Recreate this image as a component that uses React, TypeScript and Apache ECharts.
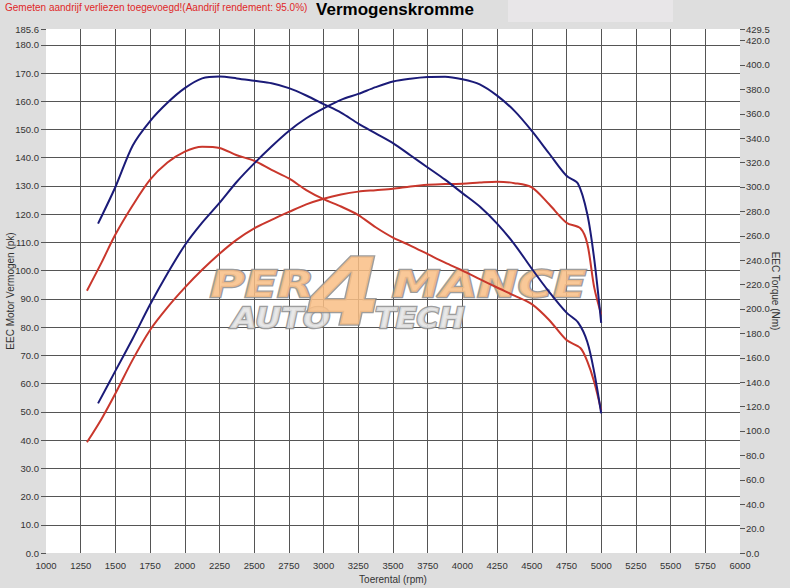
import { useEffect, useRef } from 'react';
import * as echarts from 'echarts';

// rpm grid shared by most curves
const rpmAfter = [1375, 1500, 1625, 1750, 1875, 2000, 2125, 2250, 2375, 2500, 2625, 2750, 2875, 3000, 3125, 3250, 3375, 3500, 3625, 3750, 3875, 4000, 4125, 4250, 4375, 4500, 4625, 4750, 4833, 4900, 4950, 5000];
// blue power (pk, left axis)
const powerAfter = [53, 64.5, 76, 88, 99, 109, 117, 124, 131.5, 138, 144, 149.5, 154, 157.5, 160.5, 162.6, 165, 167, 168, 168.6, 168.7, 167.8, 166, 162, 156.6, 149.5, 141.5, 133.6, 130.8, 120, 104, 81.5];
// blue torque (Nm, right axis)
const torqueAfter = [270, 300, 334, 354, 369, 381, 389, 390.5, 389, 387, 385, 381, 375, 368, 361, 352, 344, 336, 326, 316, 306, 295, 284, 270, 253, 233, 214, 197, 189, 173, 148, 114.5];

const rpmBefore = [1295, 1400, 1500, 1625, 1750, 1875, 2000, 2125, 2250, 2375, 2500, 2625, 2750, 2875, 3000, 3125, 3250, 3375, 3500, 3625, 3750, 3875, 4000, 4125, 4250, 4375, 4500, 4625, 4750, 4850, 4900, 4950, 5000];
// red power (pk, left axis)
const powerBefore = [39.2, 47.5, 56.5, 68.5, 79, 87, 94, 100.3, 106, 111, 115, 118, 120.8, 123.5, 125.5, 127, 128, 128.5, 129, 129.8, 130.4, 130.7, 130.8, 131.2, 131.5, 131, 129.5, 123.5, 117, 115, 109.5, 94, 84.5];
// red torque (Nm, right axis)
const torqueBefore = [215, 238, 261, 285, 306, 320, 329, 333, 332, 326, 321.5, 314, 307, 297.5, 290, 284, 277, 267, 258.5, 252, 245, 238, 231.5, 224.5, 217.6, 211, 204, 191, 174.5, 168, 157, 140, 117];

const rpmMin = 1000;
const rpmMax = 6000;
const pkMax = 185.6;
const nmMax = 429.5;

const FONT = 'Liberation Sans, Arial, sans-serif';
const BLUE = '#1b1b78';
const RED = '#c9372c';

const pairs = (xs: number[], ys: number[]) => xs.map((x, i) => [x, ys[i]]);

export default function App() {
  const chartRef = useRef<HTMLDivElement>(null);

  useEffect(() => {
    if (!chartRef.current) return;
    const chart = echarts.init(chartRef.current, undefined, { renderer: 'svg' });

    const logoText = (text: string, x: number, y: number, size: number, sx: number, fill: string) => ({
      type: 'text',
      x,
      y,
      scaleX: sx,
      z: 1,
      silent: true,
      style: {
        text,
        fontSize: size,
        fontFamily: 'DejaVu Sans',
        fontWeight: 'bold',
        fontStyle: 'italic',
        fill,
        stroke: '#8c8c8c',
        lineWidth: 2.5,
        opacity: 0.85,
        verticalAlign: 'middle',
      },
    });

    const option: echarts.EChartsOption = {
      animation: false,
      backgroundColor: '#dedede',
      title: {
        text: 'Vermogenskromme',
        left: 'center',
        top: 1,
        padding: 0,
        textStyle: { fontFamily: FONT, fontSize: 17, fontWeight: 'bold', color: '#000' },
      },
      graphic: [
        { type: 'rect', shape: { x: 508, y: 0, width: 165, height: 22 }, style: { fill: '#e8e6e8' }, z: -1 },
        {
          type: 'text',
          x: 5,
          y: 2,
          style: {
            text: 'Gemeten aandrijf verliezen toegevoegd!(Aandrijf rendement: 95.0%)',
            fontFamily: FONT,
            fontSize: 10,
            fill: '#e02828',
          },
        },
        logoText('PER', 210, 284, 38, 1.25, '#f9be85'),
        logoText('MANCE', 392, 284, 38, 1.27, '#f9be85'),
        logoText('AUTO', 232, 318, 29, 1.1, '#e4e4e4'),
        logoText('TECH', 375, 318, 29, 1.05, '#e4e4e4'),
        logoText('4', 308, 292, 92, 1.15, '#f9be85'),
      ],
      grid: {
        left: 46,
        right: 50,
        top: 29,
        bottom: 35,
        show: true,
        backgroundColor: '#fff',
        borderWidth: 0,
        outerBoundsMode: 'none',
        containLabel: false,
      } as any,
      xAxis: {
        type: 'value',
        min: rpmMin,
        max: rpmMax,
        interval: 250,
        name: 'Toerental (rpm)',
        nameLocation: 'middle',
        nameGap: 21,
        nameTextStyle: { fontFamily: FONT, fontSize: 10, color: '#333' },
        axisLine: { show: false },
        axisTick: { show: false },
        axisLabel: { fontFamily: FONT, fontSize: 9.5, color: '#333', margin: 7, formatter: (v: number) => String(v) },
        splitLine: { show: true, showMinLine: false, showMaxLine: false, lineStyle: { color: '#555', width: 1 } },
      },
      yAxis: [
        {
          type: 'value',
          min: 0,
          max: pkMax,
          interval: 10,
          name: 'EEC Motor Vermogen (pk)',
          nameLocation: 'middle',
          nameRotate: 90,
          nameGap: 31,
          nameMoveOverlap: false,
          nameTextStyle: { fontFamily: FONT, fontSize: 10, color: '#333' },
          axisLine: { show: false },
          axisTick: { show: true, length: 5, lineStyle: { color: '#555' } },
          axisLabel: {
            fontFamily: FONT,
            fontSize: 9.5,
            color: '#333',
            margin: 7,
            formatter: (v: number) => v.toFixed(1),
          },
          splitLine: { show: true, showMinLine: false, showMaxLine: false, lineStyle: { color: '#555', width: 1 } },
        },
        {
          type: 'value',
          position: 'right',
          min: 0,
          max: nmMax,
          interval: 20,
          name: 'EEC Torque (Nm)',
          nameLocation: 'middle',
          nameRotate: -90,
          nameGap: 30,
          nameMoveOverlap: false,
          nameTextStyle: { fontFamily: FONT, fontSize: 10, color: '#333' },
          axisLine: { show: false },
          axisTick: { show: true, length: 5, lineStyle: { color: '#555' } },
          axisLabel: {
            fontFamily: FONT,
            fontSize: 9.5,
            color: '#333',
            margin: 6,
            formatter: (v: number) => v.toFixed(1),
          },
          splitLine: { show: false },
        },
      ] as any,
      series: [
        {
          type: 'line',
          yAxisIndex: 1,
          data: pairs(rpmBefore, torqueBefore),
          showSymbol: false,
          smooth: 0.3,
          lineStyle: { color: RED, width: 2 },
          z: 3,
        },
        {
          type: 'line',
          yAxisIndex: 0,
          data: pairs(rpmBefore, powerBefore),
          showSymbol: false,
          smooth: 0.3,
          lineStyle: { color: RED, width: 2 },
          z: 3,
        },
        {
          type: 'line',
          yAxisIndex: 1,
          data: pairs(rpmAfter, torqueAfter),
          showSymbol: false,
          smooth: 0.3,
          lineStyle: { color: BLUE, width: 2 },
          z: 4,
        },
        {
          type: 'line',
          yAxisIndex: 0,
          data: pairs(rpmAfter, powerAfter),
          showSymbol: false,
          smooth: 0.3,
          lineStyle: { color: BLUE, width: 2 },
          z: 4,
        },
      ],
    };

    chart.setOption(option);
    return () => chart.dispose();
  }, []);

  return (
    <div
      ref={chartRef}
      style={{ position: 'absolute', left: 0, top: 0, width: 790, height: 588 }}
    />
  );
}
